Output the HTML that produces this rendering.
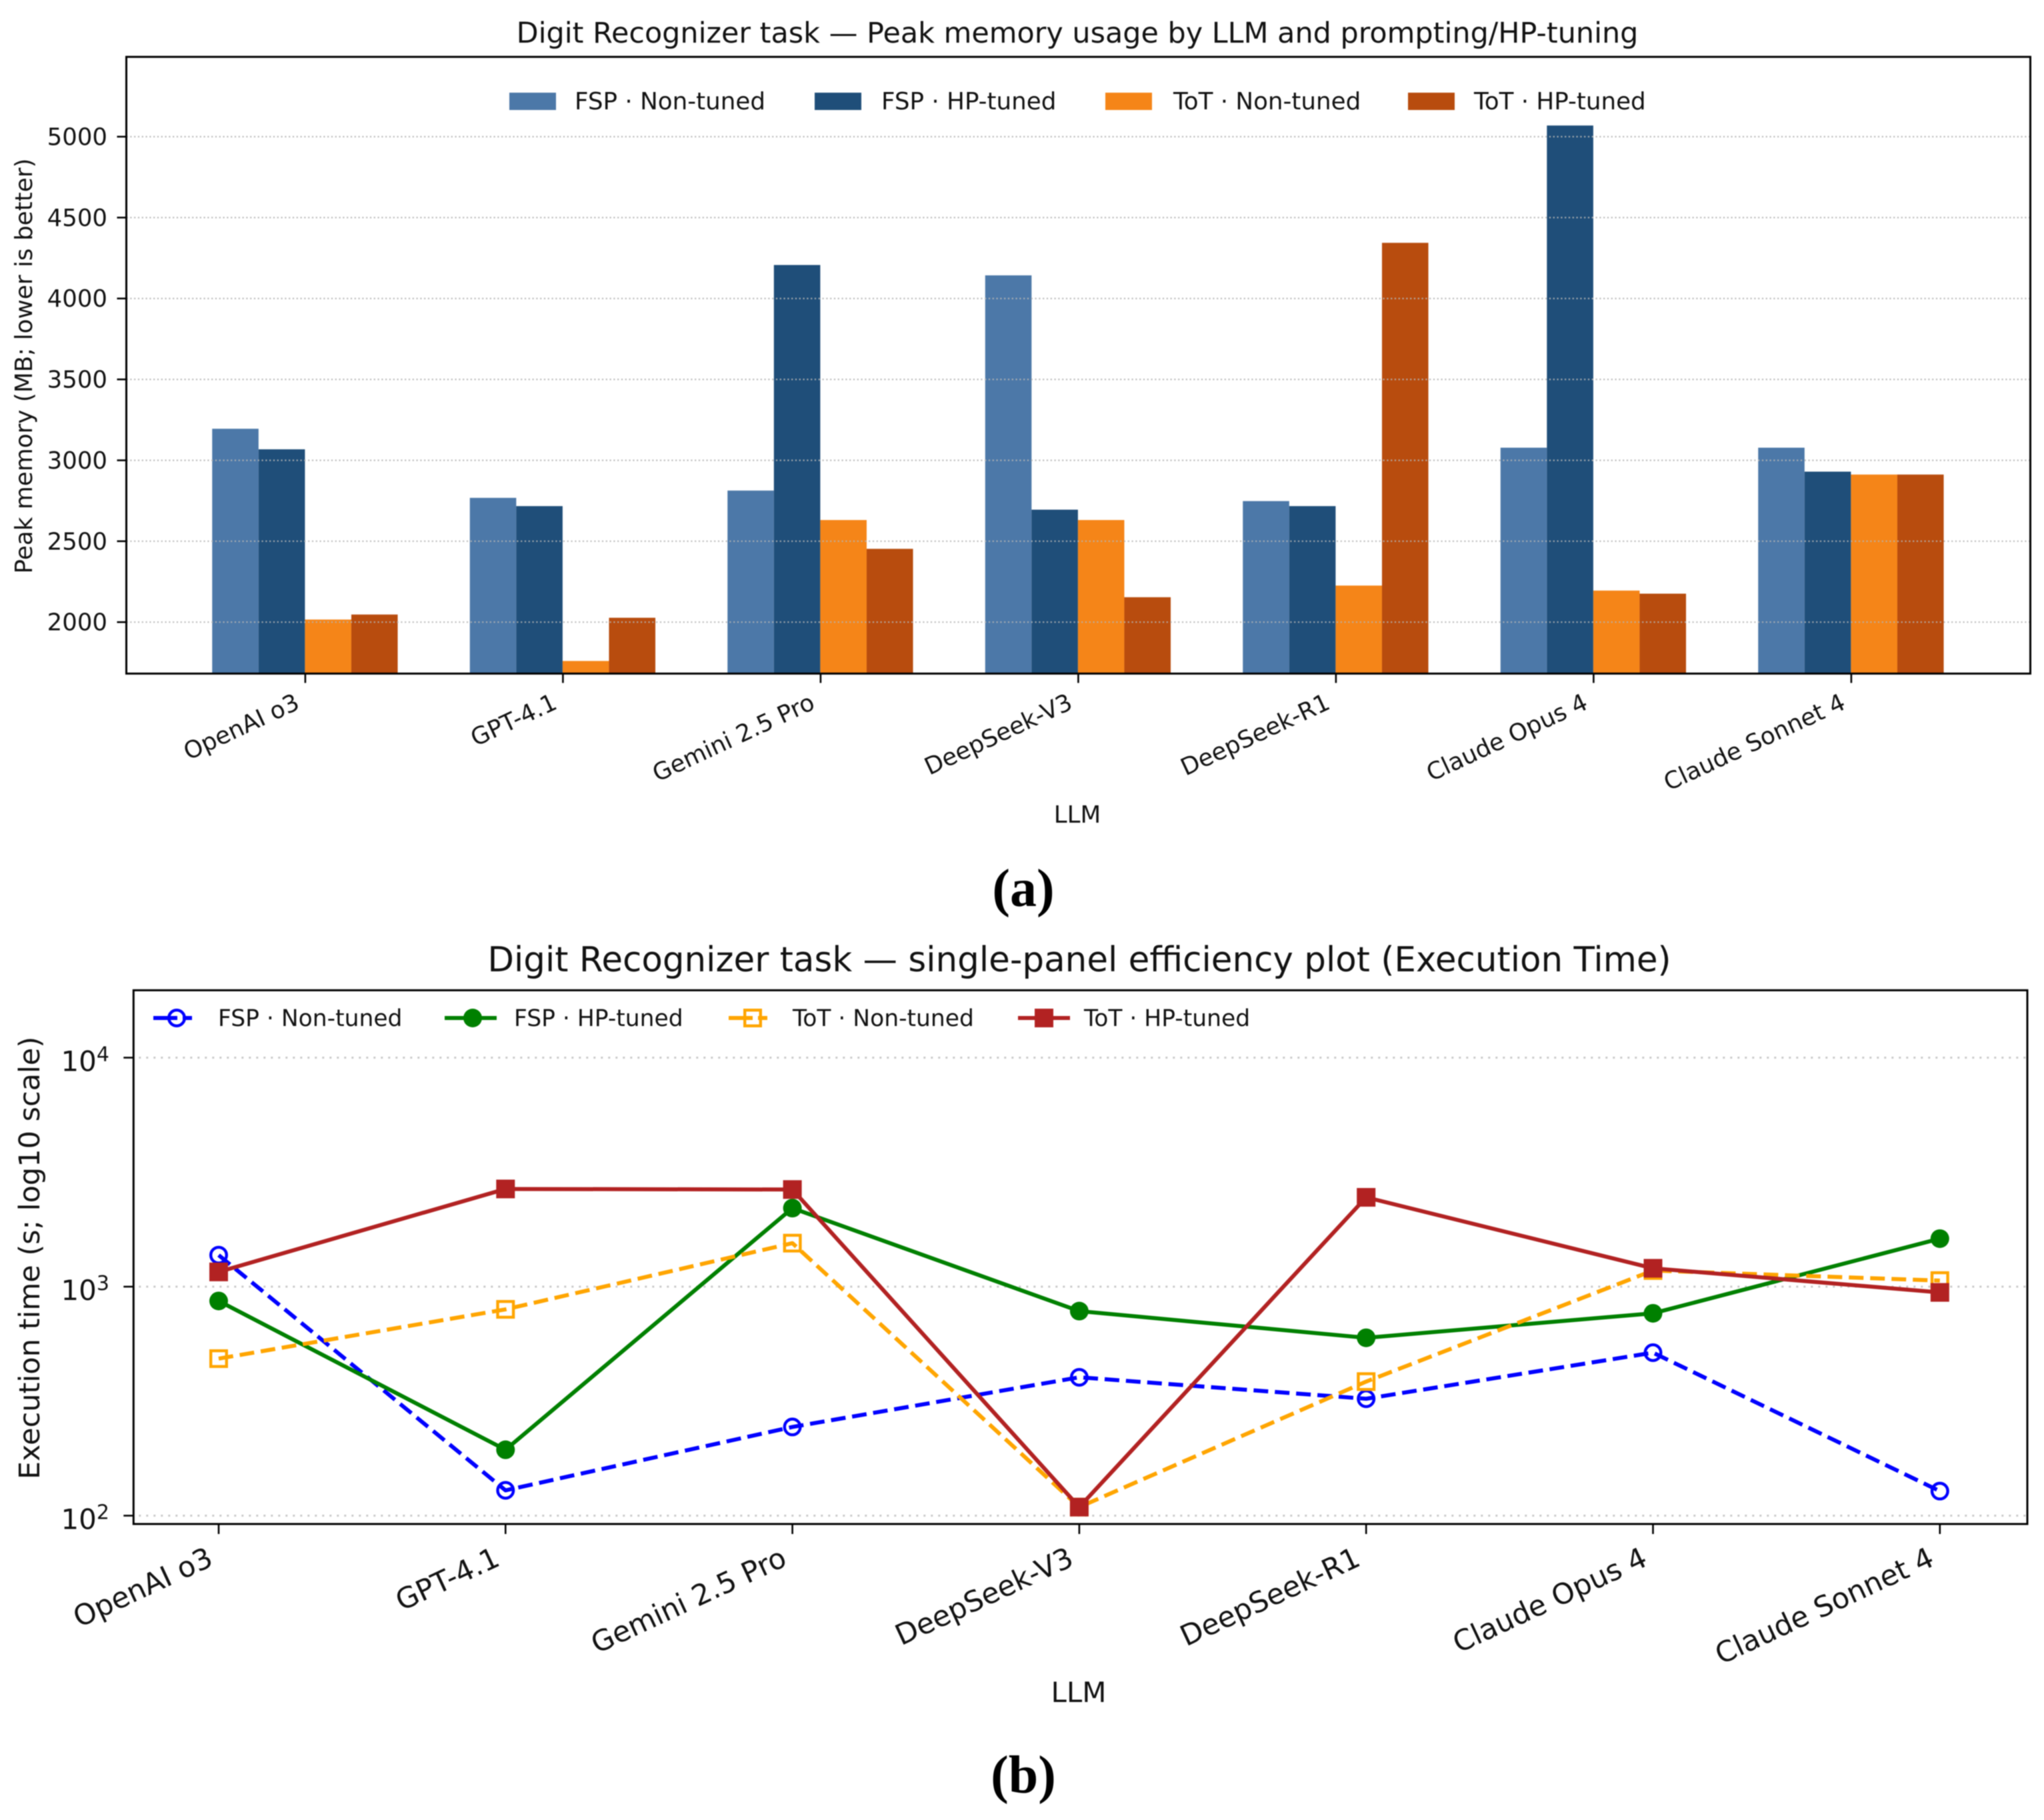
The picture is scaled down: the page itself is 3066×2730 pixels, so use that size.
<!DOCTYPE html>
<html lang="en">
<head>
<meta charset="utf-8">
<title>Digit Recognizer task charts</title>
<style>
html,body{margin:0;padding:0;background:#fff;width:3066px;height:2730px;overflow:hidden}
svg{display:block;filter:blur(0.9px)}
text{font-family:"DejaVu Sans","Liberation Sans",sans-serif;fill:#111}
.cap{font-family:"Liberation Serif",serif;font-weight:bold;font-size:80px;fill:#000}
</style>
</head>
<body>
<svg id="fig" xmlns="http://www.w3.org/2000/svg" width="3066" height="2730" viewBox="0 0 3066 2730">
  <rect x="0" y="0" width="3066" height="2730" fill="#fff"/>
  <g id="panelA"></g>
  <g id="panelB"></g>
  <text x="1616" y="64" text-anchor="middle" font-size="42.9">Digit Recognizer task — Peak memory usage by LLM and prompting/HP-tuning</text>
  <text transform="translate(48,549) rotate(-90)" text-anchor="middle" font-size="35.8">Peak memory (MB; lower is better)</text>
  <text x="1616" y="1234" text-anchor="middle" font-size="35.7">LLM</text>
  <text class="cap" x="1535" y="1359" text-anchor="middle">(a)</text>
  <text x="1619" y="1457" text-anchor="middle" font-size="51.5">Digit Recognizer task — single-panel efficiency plot (Execution Time)</text>
  <text transform="translate(59,1887) rotate(-90)" text-anchor="middle" font-size="43">Execution time (s; log10 scale)</text>
  <text x="1618" y="2553" text-anchor="middle" font-size="42">LLM</text>
  <text class="cap" x="1535" y="2689" text-anchor="middle">(b)</text>
</svg>
<script>
// ---- shared data ----
const categories = ["OpenAI o3","GPT-4.1","Gemini 2.5 Pro","DeepSeek-V3","DeepSeek-R1","Claude Opus 4","Claude Sonnet 4"];
const seriesNames = ["FSP · Non-tuned","FSP · HP-tuned","ToT · Non-tuned","ToT · HP-tuned"];

// ---- memory chart values (MB) ----
const memFspNon = [3195,2768,2813,4143,2748,3078,3078];
const memFspHp  = [3068,2717,4207,2695,2717,5069,2930];
const memTotNon = [2016,1760,2631,2631,2226,2195,2912];
const memTotHp  = [2047,2027,2453,2154,4344,2176,2912];
const memTicks  = [2000,2500,3000,3500,4000,4500,5000];

// ---- execution time values (s) ----
const timeFspNon = [1373,129,244,402,324,515,128];
const timeFspHp  = [866,194,2203,782,598,765,1621];
const timeTotNon = [485,796,1549,109,385,1176,1063];
const timeTotHp  = [1160,2671,2656,109,2455,1203,944];
const timeTickExponents = [2,3,4];

const NS = "http://www.w3.org/2000/svg";
function make(parent, tag, attrs, txt){
  const el = document.createElementNS(NS, tag);
  for (const k in attrs) el.setAttribute(k, attrs[k]);
  if (txt !== undefined) el.textContent = txt;
  parent.appendChild(el);
  return el;
}

// ---- Panel A: grouped bars ----
(function(){
  const g = document.getElementById("panelA");
  const L = 189.5, R = 3045.5, T = 85.3, B = 1010.4;
  const xA = i => 457.9 + i * 386.5;
  const yA = v => 933.2 - (v - 2000) * 0.24273;
  const barW = 0.18 * 386.5;
  const barSets = [memFspNon, memFspHp, memTotNon, memTotHp];
  const barCols = ["#4c78a8","#1f4e79","#f58518","#b84c0e"];
  const barKeys = ["fsp-non-tuned","fsp-hp-tuned","tot-non-tuned","tot-hp-tuned"];
  barSets.forEach((vals, s) => {
    vals.forEach((v, i) => {
      const x = xA(i) - 0.5 + (s - 2) * barW;
      const top = yA(v);
      const bar = make(g, "rect", {x: x, y: top, width: barW, height: Math.max(0, B - top), fill: barCols[s]});
      
      
    });
  });
  memTicks.forEach(v => {
    const y = yA(v);
    const grid = make(g, "line", {x1: L, x2: R, y1: y, y2: y, stroke: "#b4b4b4", "stroke-width": 2.2, "stroke-dasharray": "2.2 3.6", opacity: 0.9});
    
    
    const tick = make(g, "line", {x1: L - 14, x2: L, y1: y, y2: y, stroke: "#000", "stroke-width": 2.6});
    
    
    const lab = make(g, "text", {x: 161, y: y + 12.5, "text-anchor": "end", "font-size": 35.5}, String(v));
    
    
  });
  categories.forEach((c, i) => {
    const x = xA(i);
    const tick = make(g, "line", {x1: x, x2: x, y1: B, y2: B + 14, stroke: "#000", "stroke-width": 2.6});
    
    
    const lab = make(g, "text", {transform: "translate(" + (x - 6.5) + ",1062) rotate(-25)", "text-anchor": "end", "font-size": 35.7}, c);
    
    
  });
  const frame = make(g, "rect", {x: L, y: T, width: R - L, height: B - T, fill: "none", stroke: "#000", "stroke-width": 3});
  
  
  const swatchX = [764, 1222, 1658, 2112];
  const labelX = [862, 1322, 1760, 2211];
  seriesNames.forEach((n, s) => {
    const sw = make(g, "rect", {x: swatchX[s], y: 139, width: 70, height: 26, fill: barCols[s]});
    
    
    const t = make(g, "text", {x: labelX[s], y: 164, "font-size": 35.7}, n);
    
    
  });
})();

// ---- Panel B: log-scale lines ----
(function(){
  const g = document.getElementById("panelB");
  const L = 200.3, R = 3041, T = 1485.4, B = 2286;
  const xB = i => 328 + i * 430.3;
  const yB = v => 1930 - (Math.log10(v) - 3) * 343.5;
  const lineSets = [timeFspNon, timeFspHp, timeTotNon, timeTotHp];
  const lineCols = ["#0000ff","#008000","#ffa500","#b22222"];
  const lineDash = ["22 10","none","22 10","none"];
  const lineKeys = ["fsp-non-tuned","fsp-hp-tuned","tot-non-tuned","tot-hp-tuned"];
  const markerKind = ["circle-open","circle","square-open","square"];

  function drawMarker(parent, kind, col, cx, cy){
    const d = 28;
    if (kind === "circle-open") return make(parent, "circle", {cx: cx, cy: cy, r: d/2 - 2.2, fill: "none", stroke: col, "stroke-width": 4.4});
    if (kind === "circle") return make(parent, "circle", {cx: cx, cy: cy, r: d/2, fill: col});
    if (kind === "square-open") return make(parent, "rect", {x: cx - d/2 + 2.2, y: cy - d/2 + 2.2, width: d - 4.4, height: d - 4.4, fill: "none", stroke: col, "stroke-width": 4.4});
    return make(parent, "rect", {x: cx - d/2, y: cy - d/2, width: d, height: d, fill: col});
  }

  timeTickExponents.forEach(e => {
    const y = yB(Math.pow(10, e));
    const grid = make(g, "line", {x1: L + 8, x2: R, y1: y, y2: y, stroke: "#c8c8c8", "stroke-width": 3, "stroke-dasharray": "3 8"});
    
    
    const tick = make(g, "line", {x1: L - 15, x2: L, y1: y, y2: y, stroke: "#000", "stroke-width": 2.6});
    
    
    const lab = make(g, "text", {x: 164, y: y + 20, "text-anchor": "end", "font-size": 42}, "10");
    
    
    make(lab, "tspan", {dy: -15, "font-size": 30}, String(e));
  });
  categories.forEach((c, i) => {
    const x = xB(i);
    const tick = make(g, "line", {x1: x, x2: x, y1: B, y2: B + 15, stroke: "#000", "stroke-width": 2.6});
    
    
    const lab = make(g, "text", {transform: "translate(" + (x - 6) + ",2347) rotate(-25)", "text-anchor": "end", "font-size": 43}, c);
    
    
  });
  lineSets.forEach((vals, s) => {
    const pts = vals.map((v, i) => xB(i) + "," + yB(v)).join(" ");
    const poly = make(g, "polyline", {points: pts, fill: "none", stroke: lineCols[s], "stroke-width": 6, "stroke-dasharray": lineDash[s], "stroke-linejoin": "round"});
    
    
    vals.forEach((v, i) => {
      const m = drawMarker(g, markerKind[s], lineCols[s], xB(i), yB(v));
      
      
    });
  });
  const frame = make(g, "rect", {x: L, y: T, width: R - L, height: B - T, fill: "none", stroke: "#000", "stroke-width": 3});
  
  

  const handleStart = [230, 667, 1093, 1527];
  const handleEnd = [288, 745, 1151, 1605];
  const handleMark = [265, 709, 1129, 1566];
  const handleDash = ["36 8 14","none","36 8 14","none"];
  const textStart = [327, 771, 1189, 1626];
  seriesNames.forEach((n, s) => {
    const h = make(g, "line", {x1: handleStart[s], x2: handleEnd[s], y1: 1527, y2: 1527, stroke: lineCols[s], "stroke-width": 6, "stroke-dasharray": handleDash[s]});
    
    
    const m = drawMarker(g, markerKind[s], lineCols[s], handleMark[s], 1527);
    
    
    const t = make(g, "text", {x: textStart[s], y: 1539, "font-size": 34.5}, n);
    
    
  });
})();
</script>
</body>
</html>
